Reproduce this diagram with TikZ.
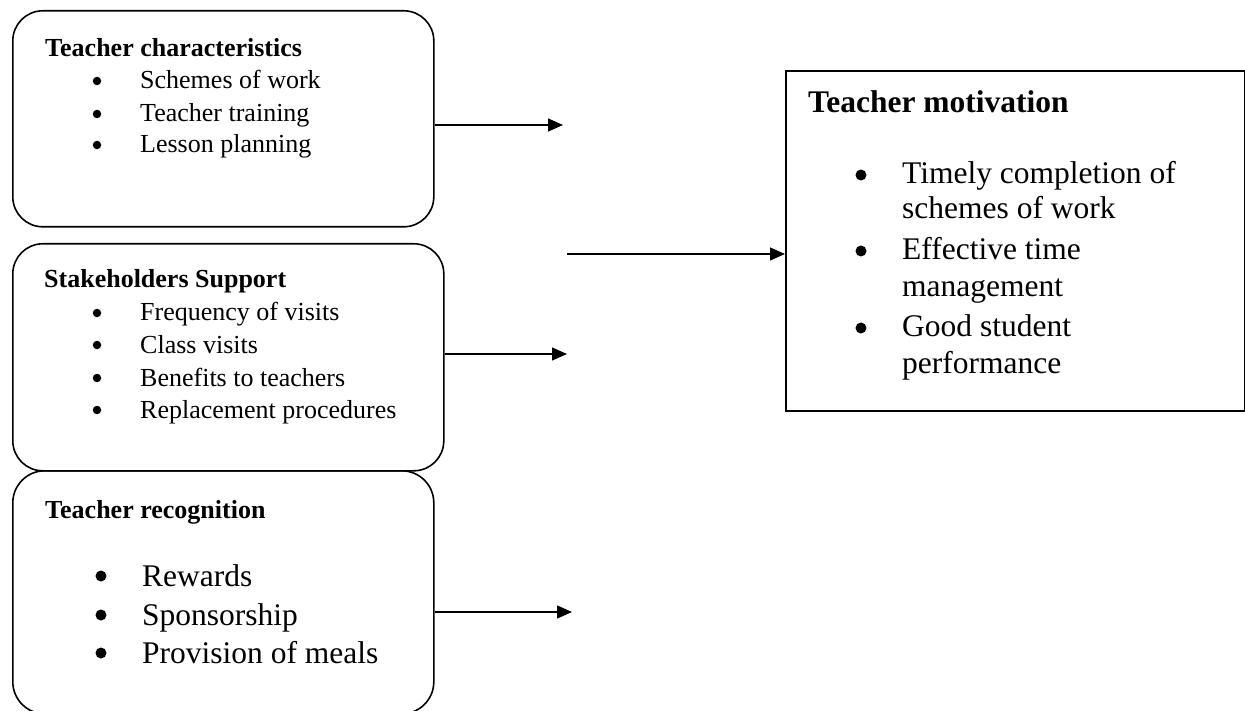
\documentclass[tikz,border=0pt]{standalone}
\usepackage{fontspec}
\setmainfont{Liberation Serif}
\usetikzlibrary{positioning, arrows.meta}

\begin{document}
\begin{tikzpicture}[x=1pt, y=-1pt,
      rbox/.style={draw, line width=1.6pt, rounded corners=30pt, anchor=north west, inner sep=0pt},
      sbox/.style={draw, line width=1.6pt, anchor=north west, inner sep=0pt},
      head/.style={anchor=base west, inner sep=0pt, font=\fontsize{26}{30}\selectfont\bfseries},
      bighead/.style={anchor=base west, inner sep=0pt, font=\fontsize{31.5}{36}\selectfont\bfseries},
      itm/.style={anchor=base west, inner sep=0pt, font=\fontsize{26}{30}\selectfont},
      bigitm/.style={anchor=base west, inner sep=0pt, font=\fontsize{31.5}{36}\selectfont},
      dot/.style={circle, fill, inner sep=0pt, minimum size=8.5pt},
      bigdot/.style={circle, fill, inner sep=0pt, minimum size=11pt},
      arr/.style={-{Triangle[length=15pt, width=13pt]}, line width=1.3pt}]

  \useasboundingbox (0,0) rectangle (1245,711);

  % left column
  \node[rbox, minimum width=421pt, minimum height=216pt] (tc) at (12,10) {};
  \node[rbox, minimum width=431pt, minimum height=227pt] (ss) at (12,243) {};
  \node[rbox, rounded corners=32pt, minimum width=421pt, minimum height=243pt] (tr) at (12,470) {};
  % outcome box
  \node[sbox, minimum width=459pt, minimum height=340pt] (tm) at (785,70) {};

  \node[head] (tc-head) at (45,57) {Teacher characteristics};
  \foreach \yy/\txt [count=\i] in {89/Schemes of work, 122/Teacher training, 153/Lesson planning} {
    \node[dot] (tc-b\i) at (97,\yy-8) {};
    \node[itm] (tc-i\i) at (140,\yy) {\txt};
  }

  \node[head] (ss-head) at (44,288) {Stakeholders Support};
  \foreach \yy/\txt [count=\i] in {321/Frequency of visits, 353/Class visits,
                                   386/Benefits to teachers, 418/Replacement procedures} {
    \node[dot] (ss-b\i) at (97,\yy-8) {};
    \node[itm] (ss-i\i) at (140,\yy) {\txt};
  }

  \node[head] (tr-head) at (45,518) {Teacher recognition};
  \foreach \yy/\txt [count=\i] in {586/Rewards, 625/Sponsorship, 663/Provision of meals} {
    \node[bigdot] (tr-b\i) at (101,\yy-10) {};
    \node[bigitm] (tr-i\i) at (142,\yy) {\txt};
  }

  \node[bighead] (tm-head) at (808,113) {Teacher motivation};
  \foreach \yy in {184, 260, 337}
    \node[bigdot] (tm-b\yy) at (861,\yy-9) {};
  \foreach \yy/\txt [count=\i] in {184/Timely completion of, 219/schemes of work,
                                   260/Effective time, 297/management,
                                   337/Good student, 373/performance}
    \node[bigitm] (tm-l\i) at (902,\yy) {\txt};

  % connectors
  \coordinate (tc-to) at (563,125);
  \coordinate (ss-to) at (567,354);
  \coordinate (tr-to) at (572,612);
  \coordinate (mid-from) at (567,254);
  \draw[arr] (tc-to -| tc.east) -- (tc-to);
  \draw[arr] (ss-to -| ss.east) -- (ss-to);
  \draw[arr] (tr-to -| tr.east) -- (tr-to);
  \draw[arr] (mid-from) -- (mid-from -| tm.west);
\end{tikzpicture}
\end{document}
